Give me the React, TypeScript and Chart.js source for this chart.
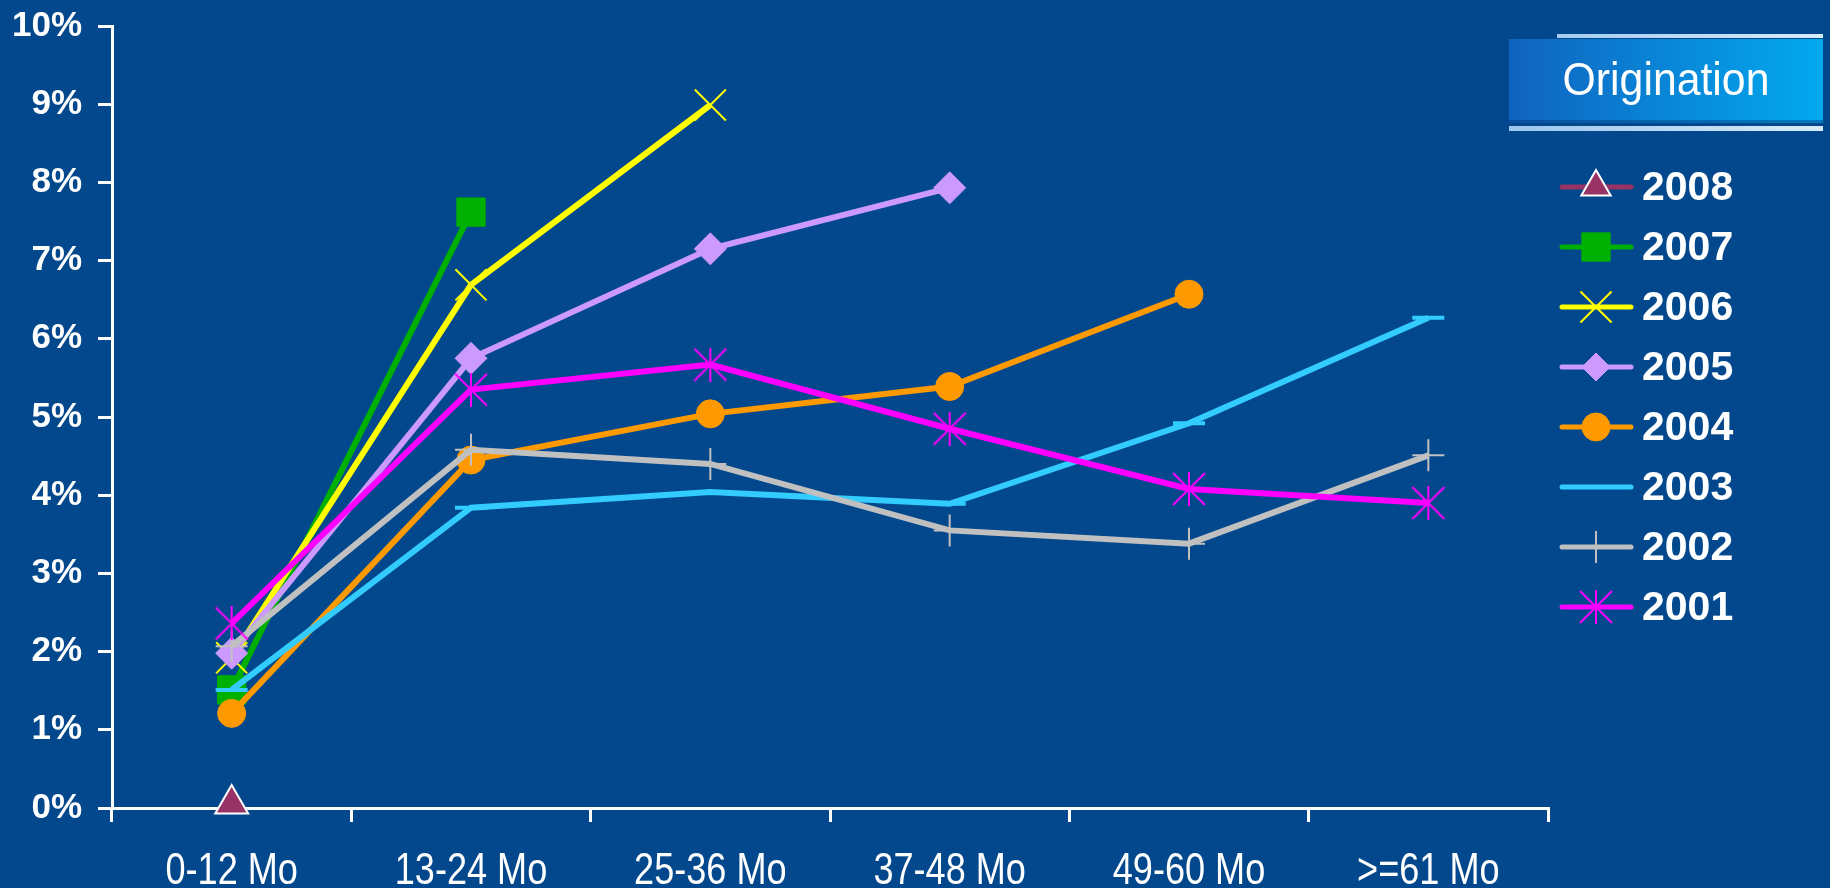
import React, { useEffect, useRef } from 'react';
import { Chart, registerables } from 'chart.js';
import { drawPoint } from 'chart.js/helpers';

Chart.register(...registerables);

const categories = ['0-12 Mo', '13-24 Mo', '25-36 Mo', '37-48 Mo', '49-60 Mo', '>=61 Mo'];
const seriesNames = ['2008', '2007', '2006', '2005', '2004', '2003', '2002', '2001'];
const s2008 = [0.05, null, null, null, null, null];
const s2007 = [1.51, 7.62, null, null, null, null];
const s2006 = [1.92, 6.69, 8.99, null, null, null];
const s2005 = [1.98, 5.75, 7.15, 7.93, null, null];
const s2004 = [1.21, 4.45, 5.04, 5.39, 6.57, null];
const s2003 = [1.51, 3.84, 4.04, 3.89, 4.92, 6.27];
const s2002 = [2.07, 4.58, 4.4, 3.55, 3.38, 4.51];
const s2001 = [2.36, 5.35, 5.67, 4.85, 4.08, 3.9];
const seriesValues = [s2008, s2007, s2006, s2005, s2004, s2003, s2002, s2001];
const colors = ['#993366', '#00b000', '#ffff00', '#cc99ff', '#ff9900', '#33ccff', '#c0c0c0', '#ff00ff'];

const BG = '#03488c';
const SANS = "'Liberation Sans', Arial, sans-serif";

function makeStar(color: string) {
  const size = 34;
  const c = document.createElement('canvas');
  c.width = size;
  c.height = size;
  const g = c.getContext('2d')!;
  g.strokeStyle = color;
  g.lineWidth = 2;
  g.beginPath();
  g.moveTo(size / 2, 0);
  g.lineTo(size / 2, size);
  g.moveTo(1, 1);
  g.lineTo(size - 1, size - 1);
  g.moveTo(size - 1, 1);
  g.lineTo(1, size - 1);
  g.stroke();
  return c;
}

function narrowText(ctx: CanvasRenderingContext2D, text: string, x: number, y: number, sx: number) {
  ctx.save();
  ctx.translate(x, y);
  ctx.scale(sx, 1);
  ctx.fillText(text, 0, 0);
  ctx.restore();
}

const legendPlugin = {
  id: 'customLegend',
  afterDraw(chart: any) {
    const ctx = chart.ctx as CanvasRenderingContext2D;
    ctx.save();
    // x-axis category labels (condensed)
    const xs = chart.scales.x;
    ctx.fillStyle = '#ffffff';
    ctx.font = `44px ${SANS}`;
    ctx.textAlign = 'center';
    ctx.textBaseline = 'alphabetic';
    categories.forEach((c, i) => {
      narrowText(ctx, c, xs.getPixelForTick(i), 884, 0.82);
    });

    // Origination header box
    const bx = 1509, by = 39, bw = 314, bh = 84;
    const hl = ctx.createLinearGradient(bx, 0, bx + bw, 0);
    hl.addColorStop(0, '#9cc6ee');
    hl.addColorStop(1, '#d6ecfb');
    ctx.fillStyle = hl;
    ctx.fillRect(bx + 48, by - 5, bw - 48, 4);
    ctx.fillRect(bx, by + bh + 3, bw, 5);
    const g = ctx.createLinearGradient(bx, 0, bx + bw, 0);
    g.addColorStop(0, '#1063bf');
    g.addColorStop(1, '#02a9ef');
    ctx.fillStyle = g;
    ctx.fillRect(bx, by, bw, bh);
    ctx.fillStyle = 'rgba(0,40,100,0.35)';
    ctx.fillRect(bx, by + bh - 3, bw, 3);
    ctx.fillStyle = '#ffffff';
    ctx.font = `46px ${SANS}`;
    ctx.textAlign = 'center';
    ctx.textBaseline = 'alphabetic';
    narrowText(ctx, 'Origination', bx + bw / 2, 95, 0.93);

    // legend rows
    chart.data.datasets.forEach((ds: any, i: number) => {
      const y = 187 + i * 60;
      ctx.strokeStyle = ds.borderColor;
      ctx.lineWidth = 5;
      ctx.lineCap = 'round';
      ctx.beginPath();
      ctx.moveTo(1562, y);
      ctx.lineTo(1631, y);
      ctx.stroke();
      ctx.lineCap = 'butt';
      if (ds.legendMarker !== false) {
        ctx.fillStyle = ds.pointBackgroundColor;
        ctx.strokeStyle = ds.pointBorderColor;
        ctx.lineWidth = ds.pointBorderWidth;
        drawPoint(ctx, {
          pointStyle: ds.pointStyle,
          radius: ds.legendRadius ?? ds.pointRadius,
          borderWidth: ds.pointBorderWidth,
          rotation: 0,
        } as any, 1596, y);
      }
      ctx.fillStyle = '#ffffff';
      ctx.font = `bold 41px ${SANS}`;
      ctx.textAlign = 'left';
      ctx.textBaseline = 'middle';
      ctx.fillText(ds.label, 1642, y + 2);
    });
    ctx.restore();
  },
};

export default function App() {
  const ref = useRef<HTMLCanvasElement | null>(null);

  useEffect(() => {
    document.body.style.margin = '0';
    document.body.style.background = BG;
    const star = makeStar(colors[7]);
    const styleDefs = [
      { pointStyle: 'triangle', pointRadius: 19, pointBackgroundColor: colors[0], pointBorderColor: '#ffffff', pointBorderWidth: 2, legendRadius: 17 },
      { pointStyle: 'rect', pointRadius: 20, pointBackgroundColor: colors[1], pointBorderColor: colors[1], pointBorderWidth: 1 },
      { pointStyle: 'crossRot', pointRadius: 22, pointBackgroundColor: colors[2], pointBorderColor: colors[2], pointBorderWidth: 2 },
      { pointStyle: 'rectRot', pointRadius: 16, pointBackgroundColor: colors[3], pointBorderColor: colors[3], pointBorderWidth: 1, legendRadius: 14 },
      { pointStyle: 'circle', pointRadius: 14, pointBackgroundColor: colors[4], pointBorderColor: colors[4], pointBorderWidth: 1 },
      { pointStyle: 'line', pointRadius: 16, pointBackgroundColor: colors[5], pointBorderColor: colors[5], pointBorderWidth: 4, legendMarker: false },
      { pointStyle: 'cross', pointRadius: 16, pointBackgroundColor: colors[6], pointBorderColor: colors[6], pointBorderWidth: 2 },
      { pointStyle: star, pointRadius: 17, pointBackgroundColor: colors[7], pointBorderColor: colors[7], pointBorderWidth: 2 },
    ];
    const datasets = seriesNames.map((name, i) => ({
      label: name,
      data: seriesValues[i],
      borderColor: colors[i],
      backgroundColor: colors[i],
      borderWidth: 6,
      tension: 0,
      clip: false,
      spanGaps: false,
      order: seriesNames.length - i,
      pointHoverRadius: styleDefs[i].pointRadius,
      ...styleDefs[i],
    }));

    const chart = new Chart(ref.current!, {
      type: 'line',
      data: { labels: categories, datasets: datasets as any },
      plugins: [legendPlugin],
      options: {
        responsive: false,
        animation: false,
        events: [],
        layout: { padding: { top: 26, right: 282, bottom: 0, left: 0 } },
        plugins: { legend: { display: false }, tooltip: { enabled: false }, title: { display: false } },
        scales: {
          x: {
            offset: true,
            afterFit: (s: any) => { s.height = 80; s.paddingLeft = 0; s.paddingRight = 0; },
            grid: { display: true, offset: true, drawOnChartArea: false, drawTicks: true, tickLength: 14, color: '#ffffff', lineWidth: 3 },
            border: { display: true, color: '#ffffff', width: 3 },
            ticks: { display: false },
          },
          y: {
            min: 0,
            max: 10,
            afterFit: (s: any) => { s.width = 112; s.paddingTop = 0; s.paddingBottom = 0; },
            grid: { display: true, drawOnChartArea: false, drawTicks: true, tickLength: 14, color: '#ffffff', lineWidth: 3 },
            border: { display: true, color: '#ffffff', width: 3 },
            ticks: { stepSize: 1, color: '#ffffff', font: { family: SANS, size: 35, weight: 'bold' }, padding: 16, callback: (v: any) => `${v}%` },
          },
        },
      },
    });
    return () => chart.destroy();
  }, []);

  return (
    <div style={{ width: 1830, height: 888, background: BG, position: 'relative' }}>
      <canvas ref={ref} width={1830} height={888} style={{ display: 'block' }} />
    </div>
  );
}
